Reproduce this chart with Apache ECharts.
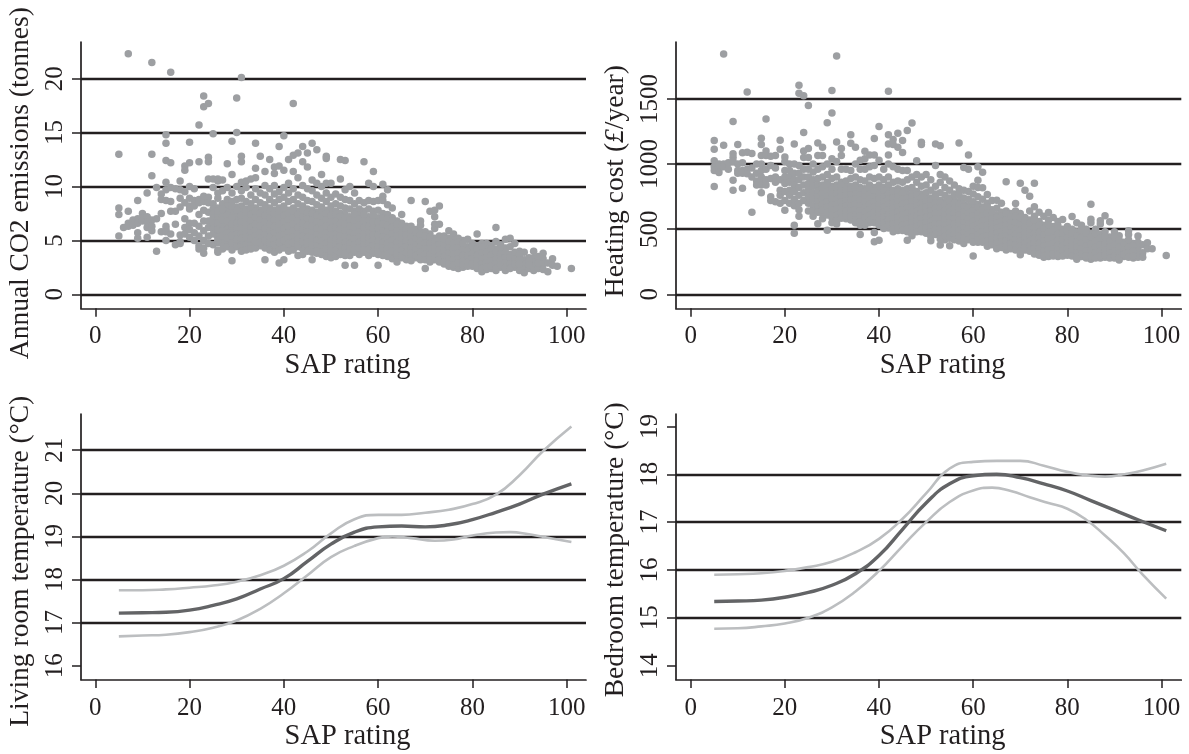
<!DOCTYPE html>
<html>
<head>
<meta charset="utf-8">
<title>SAP rating panels</title>
<style>
html,body{margin:0;padding:0;background:#fff;}
#chart_panel{width:1189px;height:754px;}
</style>
<script src="https://cdn.jsdelivr.net/npm/echarts@6/dist/echarts.min.js"></script>
</head>
<body>
<div id="chart_panel"></div>
<script>
// values, one row per SAP rating: [sap, [values...]]
var co2Rows = [
[5,[13.0,8.0,7.4,5.4]],[6,[6.2]],[7,[22.3,7.7,6.6,6.3]],[8,[6.9,6.4]],[9,[8.7,7.0,6.6,5.7,5.2]],
[10,[7.5,7.1,6.8]],[11,[9.4,7.2,6.7,6.2,5.3]],[12,[21.5,13.0,11.0,6.9,6.3,5.9]],[13,[9.9,7.0,4.0]],[14,[9.3,8.8,7.5,5.8]],
[15,[14.8,14.0,12.4,10.4,9.7,8.7,6.3,6.0,5.8,5.0]],[16,[20.6,12.2,9.9,8.6,7.7,5.6]],[17,[9.8,7.7,6.5,4.6]],[18,[10.5,9.7,8.9,8.1,5.5,4.9,4.7]],
[19,[11.9,11.5,9.5,8.5,7.0,6.2,5.6]],[20,[14.1,12.2,10.0,8.9,8.2,7.9,6.6,6.0,5.3]],[21,[9.8,8.7,8.2,6.6,5.7,5.0]],[22,[15.7,12.3,8.8,8.5,7.4,6.3,5.4,4.5,4.2]],
[23,[18.4,17.4,9.1,8.6,7.8,6.8,5.9,5.0,4.3,3.8]],[24,[17.7,12.7,12.3,10.7,9.0,8.5,7.6,6.8,6.2,5.4,4.7]],[25,[14.9,10.7,9.9,8.4,7.9,7.5,7.1,6.6,6.1,5.6,4.6]],
[26,[10.7,10.5,9.4,8.9,8.0,7.4,6.9,6.3,5.8,5.3,4.8,4.1,3.9]],[27,[10.6,9.6,8.4,7.7,7.2,6.7,6.2,5.7,5.2,4.7,4.2]],[28,[12.1,9.9,8.8,8.2,7.6,7.1,6.5,6.0,5.5,5.0,4.4]],
[29,[14.2,11.1,9.4,8.6,7.9,7.3,6.8,6.2,5.7,5.2,4.7,4.1,3.1]],[30,[18.2,15.0,10.0,8.8,8.1,7.5,6.9,6.4,5.9,5.4,4.9,4.4]],
[31,[20.1,12.8,12.3,10.4,9.6,8.9,8.2,7.6,7.0,6.4,5.9,5.4,4.9,4.4,4.0]],[32,[10.5,9.9,8.6,7.9,7.3,6.7,6.2,5.6,5.1,4.6,4.1]],[33,[10.7,9.2,8.4,7.7,7.1,6.5,6.0,5.5,5.0,4.5,4.2]],
[34,[14.0,11.7,10.8,9.8,8.8,8.0,7.4,6.8,6.2,5.7,5.2,4.7,4.3]],[35,[12.8,9.4,8.5,7.8,7.2,6.6,6.0,5.5,5.0,4.5]],[36,[11.4,10.1,9.2,8.3,7.6,7.0,6.4,5.8,5.3,4.8,4.3,3.2]],
[37,[12.5,9.8,8.8,8.0,7.4,6.8,6.2,5.6,5.1,4.6,4.1]],[38,[11.8,11.2,10.1,9.3,8.5,7.8,7.2,6.6,6.0,5.4,4.9,4.4,3.9]],[39,[13.7,11.9,9.5,8.8,8.0,7.4,6.8,6.2,5.7,5.1,4.6,4.1,2.9]],
[40,[14.7,11.5,9.9,9.0,8.2,7.6,7.0,6.4,5.8,5.3,4.8,4.3,3.2]],[41,[12.5,10.3,9.4,8.6,7.8,7.2,6.6,6.0,5.5,5.0,4.5,4.0]],[42,[17.7,12.9,11.4,9.8,8.8,8.0,7.4,6.8,6.2,5.6,5.1,4.6,4.1]],
[43,[13.1,10.8,9.2,8.4,7.7,7.1,6.5,5.9,5.4,4.9,4.4,3.6]],[44,[13.7,12.3,10.1,9.0,8.2,7.5,6.9,6.3,5.7,5.2,4.7,4.2,3.7]],[45,[13.1,11.8,9.8,8.7,7.9,7.3,6.7,6.1,5.6,5.0,4.5,4.0]],
[46,[14.0,10.6,9.6,8.6,7.8,7.2,6.6,6.0,5.5,4.9,4.4,3.9,3.2]],[47,[13.4,10.3,9.2,8.3,7.6,7.0,6.4,5.8,5.3,4.8,4.3,3.8]],[48,[11.1,10.0,8.9,8.1,7.5,6.9,6.3,5.7,5.2,4.7,4.2,3.7]],
[49,[12.8,12.6,10.3,9.4,8.6,7.8,7.2,6.6,6.0,5.5,5.0,4.5,4.0,3.5]],[50,[10.3,9.0,8.2,7.6,7.0,6.4,5.8,5.3,4.8,4.3,3.8,3.4]],[51,[9.3,8.4,7.7,7.1,6.5,5.9,5.4,4.9,4.4,3.9,3.5]],
[52,[12.5,10.7,9.0,8.2,7.5,6.9,6.3,5.7,5.2,4.7,4.2,3.7]],[53,[12.4,9.7,8.8,8.0,7.4,6.8,6.2,5.6,5.1,4.6,4.1,3.6,2.7]],[54,[10.0,8.7,7.9,7.2,6.6,6.0,5.5,5.0,4.5,4.0,3.6]],
[55,[9.4,8.4,7.7,7.1,6.5,5.9,5.4,4.9,4.4,3.9,2.7]],[56,[8.7,7.9,7.3,6.7,6.1,5.6,5.1,4.6,4.1,3.7]],[57,[12.3,8.5,7.7,7.1,6.5,5.9,5.4,4.9,4.4,3.9]],
[58,[10.3,8.7,7.9,7.2,6.6,6.0,5.5,5.0,4.5,4.0,3.6]],[59,[11.4,10.0,8.6,7.7,7.0,6.4,5.8,5.3,4.8,4.3,3.8]],[60,[8.7,7.8,7.1,6.4,5.8,5.2,4.7,4.2,3.7,2.7]],
[61,[10.2,9.1,8.7,7.5,6.8,6.2,5.6,5.1,4.6,4.1,3.6]],[62,[9.7,8.3,7.4,6.7,6.1,5.5,5.0,4.5,4.0,3.5]],[63,[8.0,7.1,6.5,5.9,5.3,4.8,4.3,3.8,3.3]],
[64,[6.8,6.2,5.7,5.1,4.6,4.1,3.6,3.0]],[65,[7.4,6.6,6.0,5.4,4.9,4.4,3.9,3.4]],[66,[6.3,5.8,5.2,4.7,4.2,3.7,3.2]],[67,[8.7,6.3,5.6,5.1,4.6,4.1,3.6,3.1]],
[68,[6.0,5.4,4.9,4.4,3.9,3.4]],[69,[6.8,6.4,5.8,5.2,4.7,4.2,3.7,3.2]],[70,[8.6,5.8,5.0,4.5,4.0,3.5,2.4]],[71,[7.7,5.6,5.0,4.5,4.0,3.5,3.0]],
[72,[7.8,7.2,6.5,6.1,5.2,4.7,4.2,3.7,3.2]],[73,[8.2,6.5,5.4,4.9,4.4,3.9,3.4,3.0]],[74,[5.4,4.8,4.3,3.8,3.3,2.8]],[75,[5.9,5.2,4.6,4.1,3.6,3.1,2.6]],
[76,[5.6,5.0,4.5,4.0,3.5,3.0,2.5]],[77,[5.2,4.6,4.1,3.6,3.1,2.6,2.4]],[78,[5.0,4.4,3.9,3.4,2.9,2.5]],[79,[5.1,4.4,3.8,3.3,2.8]],[80,[4.7,4.1,3.6,3.1,2.6]],
[81,[5.6,4.5,3.9,3.4,2.9,2.4]],[82,[4.7,4.1,3.6,3.1,2.6,2.1]],[83,[4.7,4.2,3.7,3.2,2.7,2.3]],[84,[4.5,3.9,3.4,2.9,2.4]],[85,[6.2,4.9,4.2,3.6,3.1,2.6,2.2]],
[86,[4.6,4.0,3.5,3.0,2.5]],[87,[5.1,4.3,3.7,3.2,2.7,2.2]],[88,[5.2,4.4,3.7,3.1,2.6]],[89,[4.7,3.6,3.0,2.5]],[90,[4.0,3.5,3.0,2.6,2.2]],[91,[3.9,3.2,2.8,2.3,2.0]],
[92,[3.4,2.9,2.4]],[93,[4.0,3.4,3.0,2.6,2.2]],[94,[3.1,2.7,2.4]],[95,[3.8,3.3,2.8,2.3]],[96,[2.9,2.1]],[97,[3.3,2.7]],[98,[2.6]],[101,[2.4]]
];
// the solid middle of the CO2 cloud
var co2Core = [
[26,[7.7,6.6,6.0,5.0]],[27,[7.9,6.9,5.9,5.4]],[28,[7.3,6.8,5.7,5.2]],[29,[8.2,7.1,6.5,5.4]],[30,[7.8,6.6,6.1,5.6,5.1]],[31,[7.3,6.7,6.1,5.6,5.2]],[32,[7.6,7.0,6.4,5.8,5.3]],
[33,[7.9,7.4,6.8,6.2,5.7,5.2]],[34,[7.7,7.1,6.5,5.9,5.4,4.9]],[35,[7.5,6.9,6.3,5.7,5.2,4.8]],[36,[7.9,7.3,6.7,6.1,5.5,5.0]],[37,[7.7,7.1,6.5,5.9,5.3,4.8]],[38,[7.5,6.9,6.3,5.7,5.1,4.6]],
[39,[7.7,7.1,6.5,5.9,5.4,4.8]],[40,[7.9,7.3,6.7,6.1,5.5,5.0]],[41,[7.5,6.9,6.3,5.7,5.2,4.7]],[42,[7.7,7.1,6.5,5.9,5.3,4.8]],[43,[7.4,6.8,6.2,5.6,5.1,4.6]],[44,[7.8,7.2,6.6,6.0,5.4,4.9]],
[45,[7.6,7.0,6.4,5.8,5.3,4.8]],[46,[7.5,6.9,6.3,5.7,5.2,4.6]],[47,[7.3,6.7,6.1,5.5,5.0,4.5,4.0]],[48,[7.2,6.6,6.0,5.4,4.9,4.4,3.9]],[49,[7.5,6.9,6.3,5.7,5.2,4.7,4.2]],[50,[7.3,6.7,6.1,5.5,5.0,4.5,4.0]],
[51,[7.4,6.8,6.2,5.6,5.1,4.6,4.1]],[52,[7.2,6.6,6.0,5.4,4.9,4.4,3.9]],[53,[7.1,6.5,5.9,5.3,4.8,4.3,3.8]],[54,[6.9,6.3,5.7,5.2,4.7,4.2]],[55,[7.4,6.8,6.2,5.6,5.1,4.6,4.1]],[56,[7.0,6.4,5.8,5.3,4.8,4.3]],
[57,[7.4,6.8,6.2,5.6,5.1,4.6,4.1]],[58,[6.9,6.3,5.7,5.2,4.7,4.2]],[59,[7.3,6.7,6.1,5.5,5.0,4.5,4.0]],[60,[6.7,6.1,5.5,4.9,4.4,3.9]],[61,[7.1,6.5,5.9,5.3,4.8,4.3]],[62,[7.0,6.4,5.8,5.2,4.7,4.2,3.7]],
[63,[6.8,6.2,5.6,5.0,4.5,4.0]],[64,[6.5,5.9,5.4,4.8,4.3,3.8]],[65,[6.3,5.7,5.1,4.6,4.1,3.6]],[66,[6.0,5.5,4.9,4.4,3.9]],[67,[5.9,5.3,4.8,4.3,3.8]],[68,[5.7,5.1,4.6,4.1,3.6]],[69,[5.5,4.9,4.4,3.9,3.4]],
[70,[5.4,4.7,4.2,3.7,3.2]],[71,[5.3,4.7,4.2,3.7,3.2]],[72,[4.9,4.4,3.9,3.4]],[73,[5.1,4.6,4.1,3.6,3.2]],[74,[5.1,4.5,4.0,3.5,3.0]],[75,[4.9,4.3,3.8,3.3,2.8]],[76,[4.7,4.2,3.7,3.2,2.7]],
[77,[4.8,4.3,3.8,3.3,2.9]],[78,[4.7,4.1,3.6,3.1,2.7]],[79,[4.1,3.6,3.0,2.6]],[80,[4.4,3.8,3.3,2.8]],[81,[4.2,3.6,3.1,2.6]],[82,[4.4,3.8,3.3,2.8,2.4]],[83,[3.9,3.4,2.9,2.5]],[84,[4.2,3.6,3.1,2.6]],
[85,[3.9,3.3,2.8,2.4]],[86,[4.3,3.7,3.2,2.7]],[87,[3.9,3.4,2.9,2.5]],[88,[3.4,2.8,2.4]],[89,[3.9,3.3,2.8]],[90,[3.7,3.2,2.8]],[92,[3.1,2.7]],[94,[3.5,2.9]]
];
var costRows = [
[5,[1180,1114,1025,980,950,828]],[6,[1000,960,935]],[7,[1845,1145,1000,980]],[8,[1010,960]],[9,[1326,1080,1050,1020,876,800]],[10,[1150,1000,950,930]],
[11,[1086,1010,950,930,815]],[12,[1553,1090,960,925]],[13,[1081,970,900,631]],[14,[1000,930,870,840]],[15,[1198,1150,1065,1000,950,900,870,840,780]],
[16,[1346,1100,1065,960,880,840]],[17,[1060,990,890,750,720]],[18,[1065,970,900,860,710]],[19,[1183,1114,880,800,760,700]],[20,[1055,1020,950,900,850,790,720,646]],
[21,[1000,950,900,860,800,760,700]],[22,[1155,1000,930,880,840,790,730,680,531,470]],[23,[1605,1543,990,930,880,820,760,700,650,600]],[24,[1525,1242,1100,1050,960,900,840,780,720]],
[25,[1449,1120,1050,960,900,850,800,750,700,640]],[26,[1000,940,880,830,780,730,680,640,600]],[27,[1162,1065,960,890,840,790,750,710,670,630,542]],[28,[1129,1065,980,900,840,790,750,710,670,620,580]],
[29,[1318,1000,920,860,810,770,730,690,650,610,493]],[30,[1564,1392,1040,960,890,830,790,750,710,670,630,590,550]],[31,[1830,1170,1020,900,840,790,750,710,670,630,590,540]],
[32,[1119,1065,960,860,810,770,730,690,650,610]],[33,[960,870,820,780,740,700,660,620,580]],[34,[1226,1160,950,890,830,780,740,700,660,620,570]],[35,[1129,1000,900,840,790,750,710,670,630,590,550]],
[36,[1030,960,880,820,780,740,700,660,620,580,530,460]],[37,[1099,1040,960,870,810,770,730,690,650,610,570,530]],[38,[1070,980,900,840,790,750,710,670,630,590,550]],
[39,[1196,1070,990,890,820,770,730,690,650,610,570,475,404]],[40,[1288,1030,900,840,790,750,710,670,630,590,550,416]],[41,[960,880,820,770,730,690,650,610,570,530]],
[42,[1559,1226,1155,1070,1000,900,840,790,750,710,670,630,590,550,510]],[43,[1188,1150,980,860,800,760,720,680,640,600,560,520,480]],[44,[1237,1129,960,870,810,770,730,690,650,610,570,530,490]],
[45,[1180,1088,950,860,800,750,710,670,630,590,550,510]],[46,[1257,950,880,810,760,720,680,640,600,560,520,480,416]],[47,[1316,900,820,770,730,690,650,610,570,530,490,450]],
[48,[1025,920,860,790,740,700,660,620,580,540,500]],[49,[1168,1150,900,830,770,720,680,640,600,560,520,480]],[50,[920,840,780,730,690,650,610,570,530,490]],
[51,[880,800,740,700,660,620,580,540,500,411]],[52,[1155,990,830,770,720,680,640,600,560,520,480]],[53,[1140,920,860,780,720,680,640,600,560,520,480,378]],
[54,[900,820,760,710,670,630,590,550,510,470,420]],[55,[870,800,740,690,650,610,570,530,490,450,373]],[56,[840,770,720,680,640,600,560,520,480,440]],
[57,[1162,810,760,710,670,630,590,550,510,470,410]],[58,[973,800,740,690,650,610,570,530,490,450,390]],[59,[1070,960,790,730,680,640,600,560,520,480,440]],
[60,[830,770,710,660,620,580,540,500,460,420,294]],[61,[979,876,820,750,690,640,600,560,520,480,440,400]],[62,[938,818,730,670,620,580,540,500,460,420]],
[63,[767,700,640,590,550,510,470,430,390]],[64,[720,650,600,560,520,480,440,400]],[65,[723,660,610,570,530,490,450,410,370]],[66,[700,630,580,540,500,460,420,380]],
[67,[864,640,590,550,510,470,430,390,340]],[68,[620,570,530,490,450,410,370]],[69,[697,640,570,520,480,440,400,360]],[70,[853,620,560,510,470,430,390,350,304]],
[71,[800,590,540,490,450,410,370,340]],[72,[754,640,570,520,470,430,390,350]],[73,[853,672,600,540,490,450,410,370,330]],[74,[630,560,500,450,410,370,330,300]],
[75,[600,530,480,430,390,350,310,285]],[76,[628,570,500,450,400,360,320,290]],[77,[590,520,460,410,370,330,295]],[78,[560,490,440,400,360,320,290]],[79,[575,500,440,390,350,310]],
[80,[520,460,410,370,330,300]],[81,[598,500,440,390,350,310]],[82,[550,480,420,380,340,300,270]],[83,[530,460,410,370,330,290]],[84,[500,440,390,350,310,280]],
[85,[692,577,550,470,410,360,320,270]],[86,[500,430,380,340,300]],[87,[565,540,460,400,350,310,280]],[88,[603,480,410,360,320,285]],[89,[557,440,380,340,300]],
[90,[480,400,350,310,280]],[91,[450,380,340,300,263]],[92,[400,360,320,290]],[93,[488,460,380,340,300]],[94,[390,350,310,280]],[95,[447,400,350,300,285]],
[96,[380,320,284]],[97,[396,350]],[98,[350]],[101,[299]]
];
// the solid middle of the cost cloud
var costCore = [
[28,[815,772,728,690,645]],[29,[835,790,752,708,668,628]],[30,[812,768,730,688,648,608]],[31,[818,772,732,690,652,610,565]],[32,[835,790,752,708,668,628,585]],[33,[800,760,718,678,640,600]],
[34,[805,762,722,680,642,598]],[35,[815,770,730,690,650,610,570]],[36,[800,760,720,680,640,600,555]],[37,[790,750,710,670,630,590,548]],[38,[815,770,730,690,650,610,570]],[39,[795,750,710,670,630,590,550]],
[40,[770,730,690,650,610,570,530]],[41,[795,750,710,670,630,590,550,505]],[42,[770,730,690,650,610,570,530]],[43,[780,740,700,660,620,580,540,500]],[44,[790,750,710,670,630,590,550,510]],[45,[775,730,690,650,610,570,530,490]],
[46,[740,700,660,620,580,540,500]],[47,[750,710,670,630,590,550,510,470]],[48,[765,720,680,640,600,560,520,480]],[49,[745,700,660,620,580,540,500]],[50,[710,670,630,590,550,510,470]],[51,[720,680,640,600,560,520,480,445]],
[52,[745,700,660,620,580,540,500,460]],[53,[700,660,620,580,540,500,460,425]],[54,[690,650,610,570,530,490,450]],[55,[715,670,630,590,550,510,470,430]],[56,[700,660,620,580,540,500,460,420]],[57,[690,650,610,570,530,490,450]],
[58,[670,630,590,550,510,470,430]],[59,[660,620,580,540,500,460,420]],[60,[640,600,560,520,480,440,400]],[61,[670,620,580,540,500,460,420]],[62,[650,600,560,520,480,440,400]],[63,[670,620,570,530,490,450,410,370]],
[64,[625,580,540,500,460,420,380]],[65,[590,550,510,470,430,390,350]],[66,[600,560,520,480,440,400,360]],[67,[620,570,530,490,450,410,370]],[68,[595,550,510,470,430,390,350]],[69,[600,550,500,460,420,380,340]],
[70,[590,535,490,450,410,370,330]],[71,[565,515,470,430,390,355]],[72,[545,495,450,410,370,330]],[73,[570,515,470,430,390,350,310]],[74,[530,475,430,390,350,310]],[75,[505,455,410,370,330,295]],[76,[535,475,425,380,340,305]],
[77,[490,435,390,350,310]],[78,[525,465,420,380,340,305]],[79,[470,415,370,330,295]],[80,[490,435,390,350,315]],[81,[470,415,370,330,295]],[82,[450,400,360,320,285]],[83,[495,435,390,350,310]],[84,[470,415,370,330,295]],
[85,[440,385,340,295]],[86,[465,405,360,320,280]],[87,[430,375,330,295]],[88,[445,385,340,300]],[89,[410,360,320,280]],[90,[440,375,330,295]],[91,[415,360,320,280]],[92,[380,340,305]],[93,[420,360,320,285]],[94,[370,330,295]]
];

// fitted curves: [sap, temperature]
var livingMid = [[5,17.22],[10,17.23],[15,17.24],[20,17.29],[25,17.40],[30,17.55],[35,17.78],[40,18.02],[45,18.42],[50,18.82],[55,19.1],[60,19.22],[65,19.24],[70,19.22],[75,19.27],[80,19.39],[85,19.56],[90,19.75],[95,19.98],[101,20.22]];
var livingUpper = [[5,17.75],[10,17.75],[15,17.77],[20,17.81],[25,17.86],[30,17.95],[35,18.1],[40,18.32],[45,18.65],[50,19.07],[55,19.4],[60,19.5],[65,19.5],[70,19.55],[75,19.62],[80,19.75],[85,19.97],[90,20.42],[95,20.98],[101,21.55]];
var livingLower = [[5,16.68],[10,16.7],[15,16.72],[20,16.78],[25,16.88],[30,17.05],[35,17.32],[40,17.68],[45,18.1],[50,18.52],[55,18.78],[60,18.96],[63,19.0],[67,18.96],[72,18.9],[76,18.93],[80,19.02],[85,19.09],[88,19.1],[92,19.05],[96,18.97],[101,18.87]];
var bedMid = [[5,15.34],[10,15.35],[15,15.37],[20,15.43],[25,15.53],[30,15.68],[35,15.92],[40,16.3],[45,16.85],[50,17.4],[55,17.8],[60,17.97],[65,18.0],[70,17.93],[75,17.8],[80,17.65],[85,17.45],[90,17.25],[95,17.05],[101,16.82]];
var bedUpper = [[5,15.9],[10,15.91],[15,15.93],[20,15.98],[25,16.06],[30,16.17],[35,16.37],[40,16.65],[45,17.07],[50,17.6],[55,18.12],[60,18.26],[65,18.28],[70,18.28],[75,18.18],[80,18.05],[85,17.97],[88,17.95],[92,18.0],[96,18.08],[101,18.22]];
var bedLower = [[5,14.77],[10,14.78],[15,14.82],[20,14.88],[25,15.0],[30,15.22],[35,15.55],[40,15.98],[45,16.5],[50,17.0],[55,17.42],[60,17.66],[64,17.72],[68,17.65],[72,17.52],[76,17.4],[80,17.28],[84,17.05],[88,16.72],[92,16.35],[96,15.9],[101,15.4]];

var sapTicks = [0,20,40,60,80,100];
var co2Ticks = [0,5,10,15,20];
var costTicks = [0,500,1000,1500];
var livingTicks = [16,17,18,19,20,21];
var livingLines = [17,18,19,20,21];
var bedTicks = [14,15,16,17,18,19];
var bedLines = [15,16,17,18];

var INK = '#231f20';
var DOT = '#9d9fa2';
var FONT = '"Liberation Serif", serif';

var panels = [
	{left:81, right:586, top:42, bottom:308.3, xMin:-3.03, xMax:104.1, yMin:-1.3, yMax:23.4, ticks:co2Ticks, lines:co2Ticks, name:'Annual CO2 emissions (tonnes)', shift:8},
	{left:676, right:1181.3, top:42, bottom:308.3, xMin:-3.12, xMax:104.2, yMin:-107, yMax:1937, ticks:costTicks, lines:costTicks, name:'{a|Heating cost (}{b|£}{a|/year)}', shift:6},
	{left:81, right:586, top:414, bottom:679.5, xMin:-3.03, xMax:104.1, yMin:15.68, yMax:21.84, ticks:livingTicks, lines:livingLines, name:'Living room temperature (°C)', shift:14.5},
	{left:676, right:1181.3, top:414, bottom:679.5, xMin:-3.12, xMax:104.2, yMin:13.71, yMax:19.26, ticks:bedTicks, lines:bedLines, name:'Bedroom temperature (°C)', shift:3}
];

function flatten(rows){
	var pts = [];
	for(var i=0; i<rows.length; i++){
		for(var j=0; j<rows[i][1].length; j++){
			pts.push([rows[i][0], rows[i][1][j]]);
		}
	}
	return pts;
}

function getGrids(){
	return panels.map(function(p){
		return {left:p.left, width:p.right-p.left, top:p.top, height:p.bottom-p.top, containLabel:false, outerBoundsMode:'none'};
	});
}

function plainLabel(v){
	return String(v);
}

function getXAxes(){
	return panels.map(function(p, i){
		return {
			type:'value', gridIndex:i, min:p.xMin, max:p.xMax,
			name:'SAP rating', nameLocation:'middle', nameGap:43,
			nameTextStyle:{fontFamily:FONT, fontSize:28.5, color:INK, padding:[0,0,0,28]},
			axisLine:{show:true, onZero:false, lineStyle:{color:INK, width:1.7}},
			axisTick:{show:true, length:8.5, customValues:sapTicks, lineStyle:{color:INK, width:1.5}},
			axisLabel:{show:true, customValues:sapTicks, margin:16, formatter:plainLabel, fontFamily:FONT, fontSize:25, color:INK, hideOverlap:false},
			splitLine:{show:false}
		};
	});
}

function getYAxes(){
	return panels.map(function(p, i){
		return {
			type:'value', gridIndex:i, min:p.yMin, max:p.yMax,
			name:p.name, nameLocation:'middle', nameGap:46, nameMoveOverlap:false,
			nameTextStyle:{
				fontFamily:FONT, fontSize:27.5, color:INK, padding:[0,p.shift*2,0,0],
				rich:{a:{fontFamily:FONT, fontSize:27.5, color:INK}, b:{fontFamily:FONT, fontSize:27.5, color:INK, fontStyle:'italic'}}
			},
			axisLine:{show:true, onZero:false, lineStyle:{color:INK, width:1.7}},
			axisTick:{show:true, length:9, customValues:p.ticks, lineStyle:{color:INK, width:1.5}},
			axisLabel:{show:true, customValues:p.ticks, rotate:90, margin:13, formatter:plainLabel, fontFamily:FONT, fontSize:25, color:INK, hideOverlap:false},
			splitLine:{show:false}
		};
	});
}

function refLines(i){
	var data = panels[i].lines.map(function(v){ return {yAxis:v}; });
	return {
		type:'line', xAxisIndex:i, yAxisIndex:i, data:[], z:1, silent:true,
		markLine:{silent:true, symbol:'none', label:{show:false}, animation:false, z:1,
			lineStyle:{color:INK, width:2.4, type:'solid'}, data:data}
	};
}

function dots(i, rows, core){
	return {type:'scatter', xAxisIndex:i, yAxisIndex:i, data:flatten(rows).concat(flatten(core)), z:3, symbolSize:7.5,
		itemStyle:{color:DOT, opacity:1}, animation:false};
}

function curve(i, data, color, width){
	return {type:'line', xAxisIndex:i, yAxisIndex:i, data:data, z:3, smooth:true, showSymbol:false,
		lineStyle:{color:color, width:width}, animation:false};
}

var series = [
	refLines(0), dots(0, co2Rows, co2Core),
	refLines(1), dots(1, costRows, costCore),
	refLines(2), curve(2, livingUpper, '#bcbec0', 2.6), curve(2, livingLower, '#bcbec0', 2.6), curve(2, livingMid, '#636466', 3.4),
	refLines(3), curve(3, bedUpper, '#bcbec0', 2.6), curve(3, bedLower, '#bcbec0', 2.6), curve(3, bedMid, '#636466', 3.4)
];

var myChart = echarts.init(document.getElementById('chart_panel'));
myChart.setOption({
	animation:false,
	backgroundColor:'#fff',
	textStyle:{fontFamily:FONT},
	grid:getGrids(),
	xAxis:getXAxes(),
	yAxis:getYAxes(),
	series:series
});
</script>
</body>
</html>
